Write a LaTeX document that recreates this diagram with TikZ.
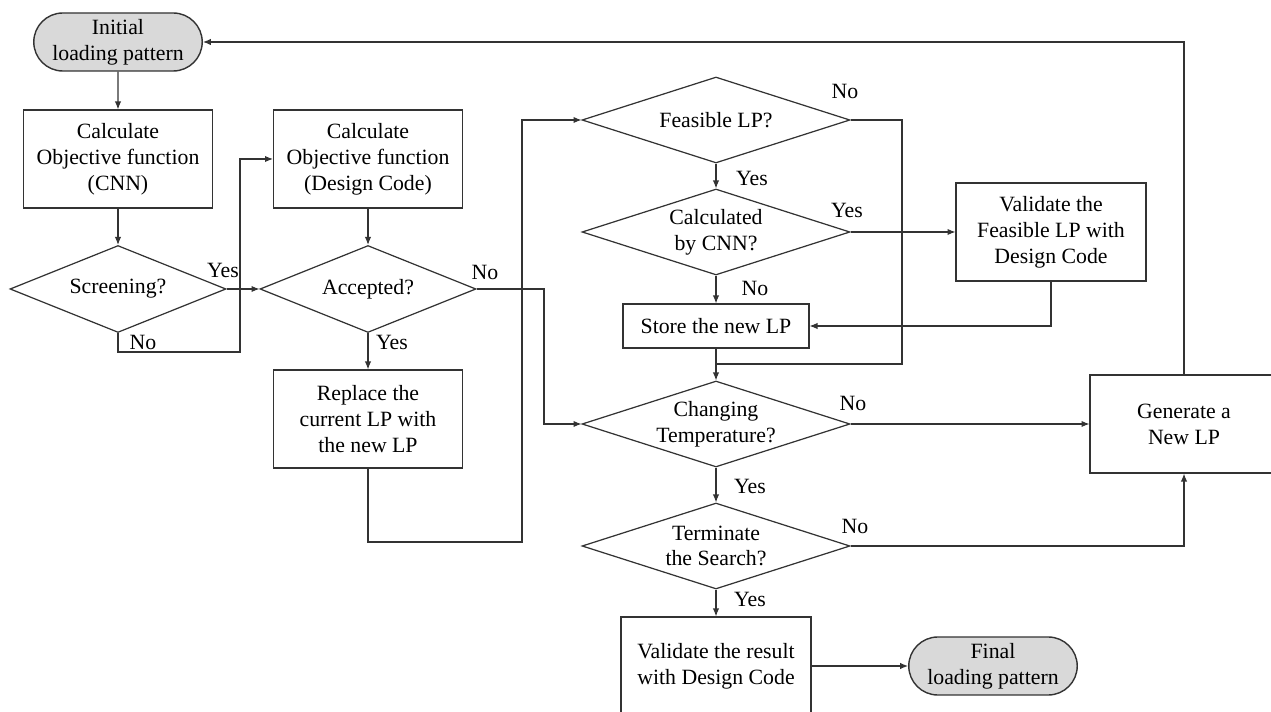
\documentclass[tikz,border=0pt]{standalone}
\usepackage{fontspec}
\setmainfont{Liberation Serif}
\usetikzlibrary{arrows.meta,shapes.geometric,shapes.misc}

\begin{document}
\begin{tikzpicture}[x=0.02cm, y=-0.02cm,
  every node/.style={font=\fontsize{12.4}{14.7}\selectfont, align=center},
  line/.style={draw=black!80, line width=0.6pt},
  arr/.style={line, -{Latex[length=4.5pt,width=3.6pt]}},
  term/.style={rounded rectangle, draw=black!80, line width=0.8pt, fill=black!15,
    minimum width=3.44cm, minimum height=1.16cm, inner sep=1pt},
  proc/.style={rectangle, draw=black!80, line width=0.7pt,
    minimum width=3.78cm, minimum height=1.96cm},
  dec/.style={diamond, draw=black!80, line width=0.7pt, aspect=3, inner sep=0pt,
    minimum width=5.36cm, minimum height=1.72cm},
  decs/.style={dec, minimum width=4.32cm, minimum height=1.74cm}]
  \useasboundingbox (0,0) rectangle (1271,712);

  % left column
  \node[term] (init) at (118,42) {Initial\\loading pattern};
  \node[proc] (cnn) at (118,159) {Calculate\\Objective function\\(CNN)};
  \node[decs] (scr) at (118,289) {Screening?};
  \node[proc] (dc) at (368,159) {Calculate\\Objective function\\(Design Code)};
  \node[decs] (acc) at (368,289) {Accepted?};
  \node[proc] (rep) at (368,419) {Replace the\\current LP with\\the new LP};

  % middle column
  \node[dec] (feas) at (716,120) {Feasible LP?};
  \node[dec] (calc) at (716,232) {Calculated\\by CNN?};
  \node[proc, minimum width=3.72cm, minimum height=0.88cm] (store) at (716,326) {Store the new LP};
  \node[dec] (chg) at (716,424) {Changing\\Temperature?};
  \node[dec] (term) at (716,546) {Terminate\\the Search?};
  \node[proc, minimum width=3.8cm] (valr) at (716,666) {Validate the result\\with Design Code};
  \node[term] (fin) at (993,666) {Final\\loading pattern};

  % right column
  \node[proc, minimum width=3.8cm] (valf) at (1051,232) {Validate the\\Feasible LP with\\Design Code};
  \node[proc, minimum width=3.76cm] (gen) at (1184,424) {Generate a\\New LP};

  \coordinate (scrno) at (240,352);
  \coordinate (accno) at (544,289);
  \coordinate (repout) at (522,542);
  \coordinate (feasno) at (902,364);

  \draw[arr] (init) -- (cnn);
  \draw[arr] (cnn) -- (scr);
  \draw[arr] (scr) -- (acc);
  \draw[arr] (scr.south) |- (scrno) |- (dc.west);
  \draw[arr] (dc) -- (acc);
  \draw[arr] (acc) -- (rep);
  \draw[arr] (acc.east) -- (accno) |- (chg.west);
  \draw[arr] (rep.south) |- (repout) |- (feas.west);
  \draw[arr] (feas) -- (calc);
  \draw[arr] (calc) -- (store);
  \draw[arr] (calc) -- (valf);
  \draw[arr] (valf.south) |- (store.east);
  \draw[arr] (store) -- (chg);
  \draw[line] (feas.east) -| (feasno) -- (feasno -| chg.north);
  \draw[arr] (chg) -- (gen);
  \draw[arr] (chg) -- (term);
  \draw[arr] (term.east) -| (gen.south);
  \draw[arr] (gen.north) |- (init.east);
  \draw[arr] (term) -- (valr);
  \draw[arr] (valr) -- (fin);

  % branch labels
  \node (ly1) at (223,270) {Yes};
  \node (ln1) at (143,342) {No};
  \node (ly2) at (392,342) {Yes};
  \node (ln2) at (485,272) {No};
  \node (ln3) at (845,91) {No};
  \node (ly3) at (752,178) {Yes};
  \node (ly4) at (847,210) {Yes};
  \node (ln4) at (755,288) {No};
  \node (ln5) at (853,403) {No};
  \node (ly5) at (750,486) {Yes};
  \node (ln6) at (855,526) {No};
  \node (ly6) at (750,599) {Yes};
\end{tikzpicture}
\end{document}
